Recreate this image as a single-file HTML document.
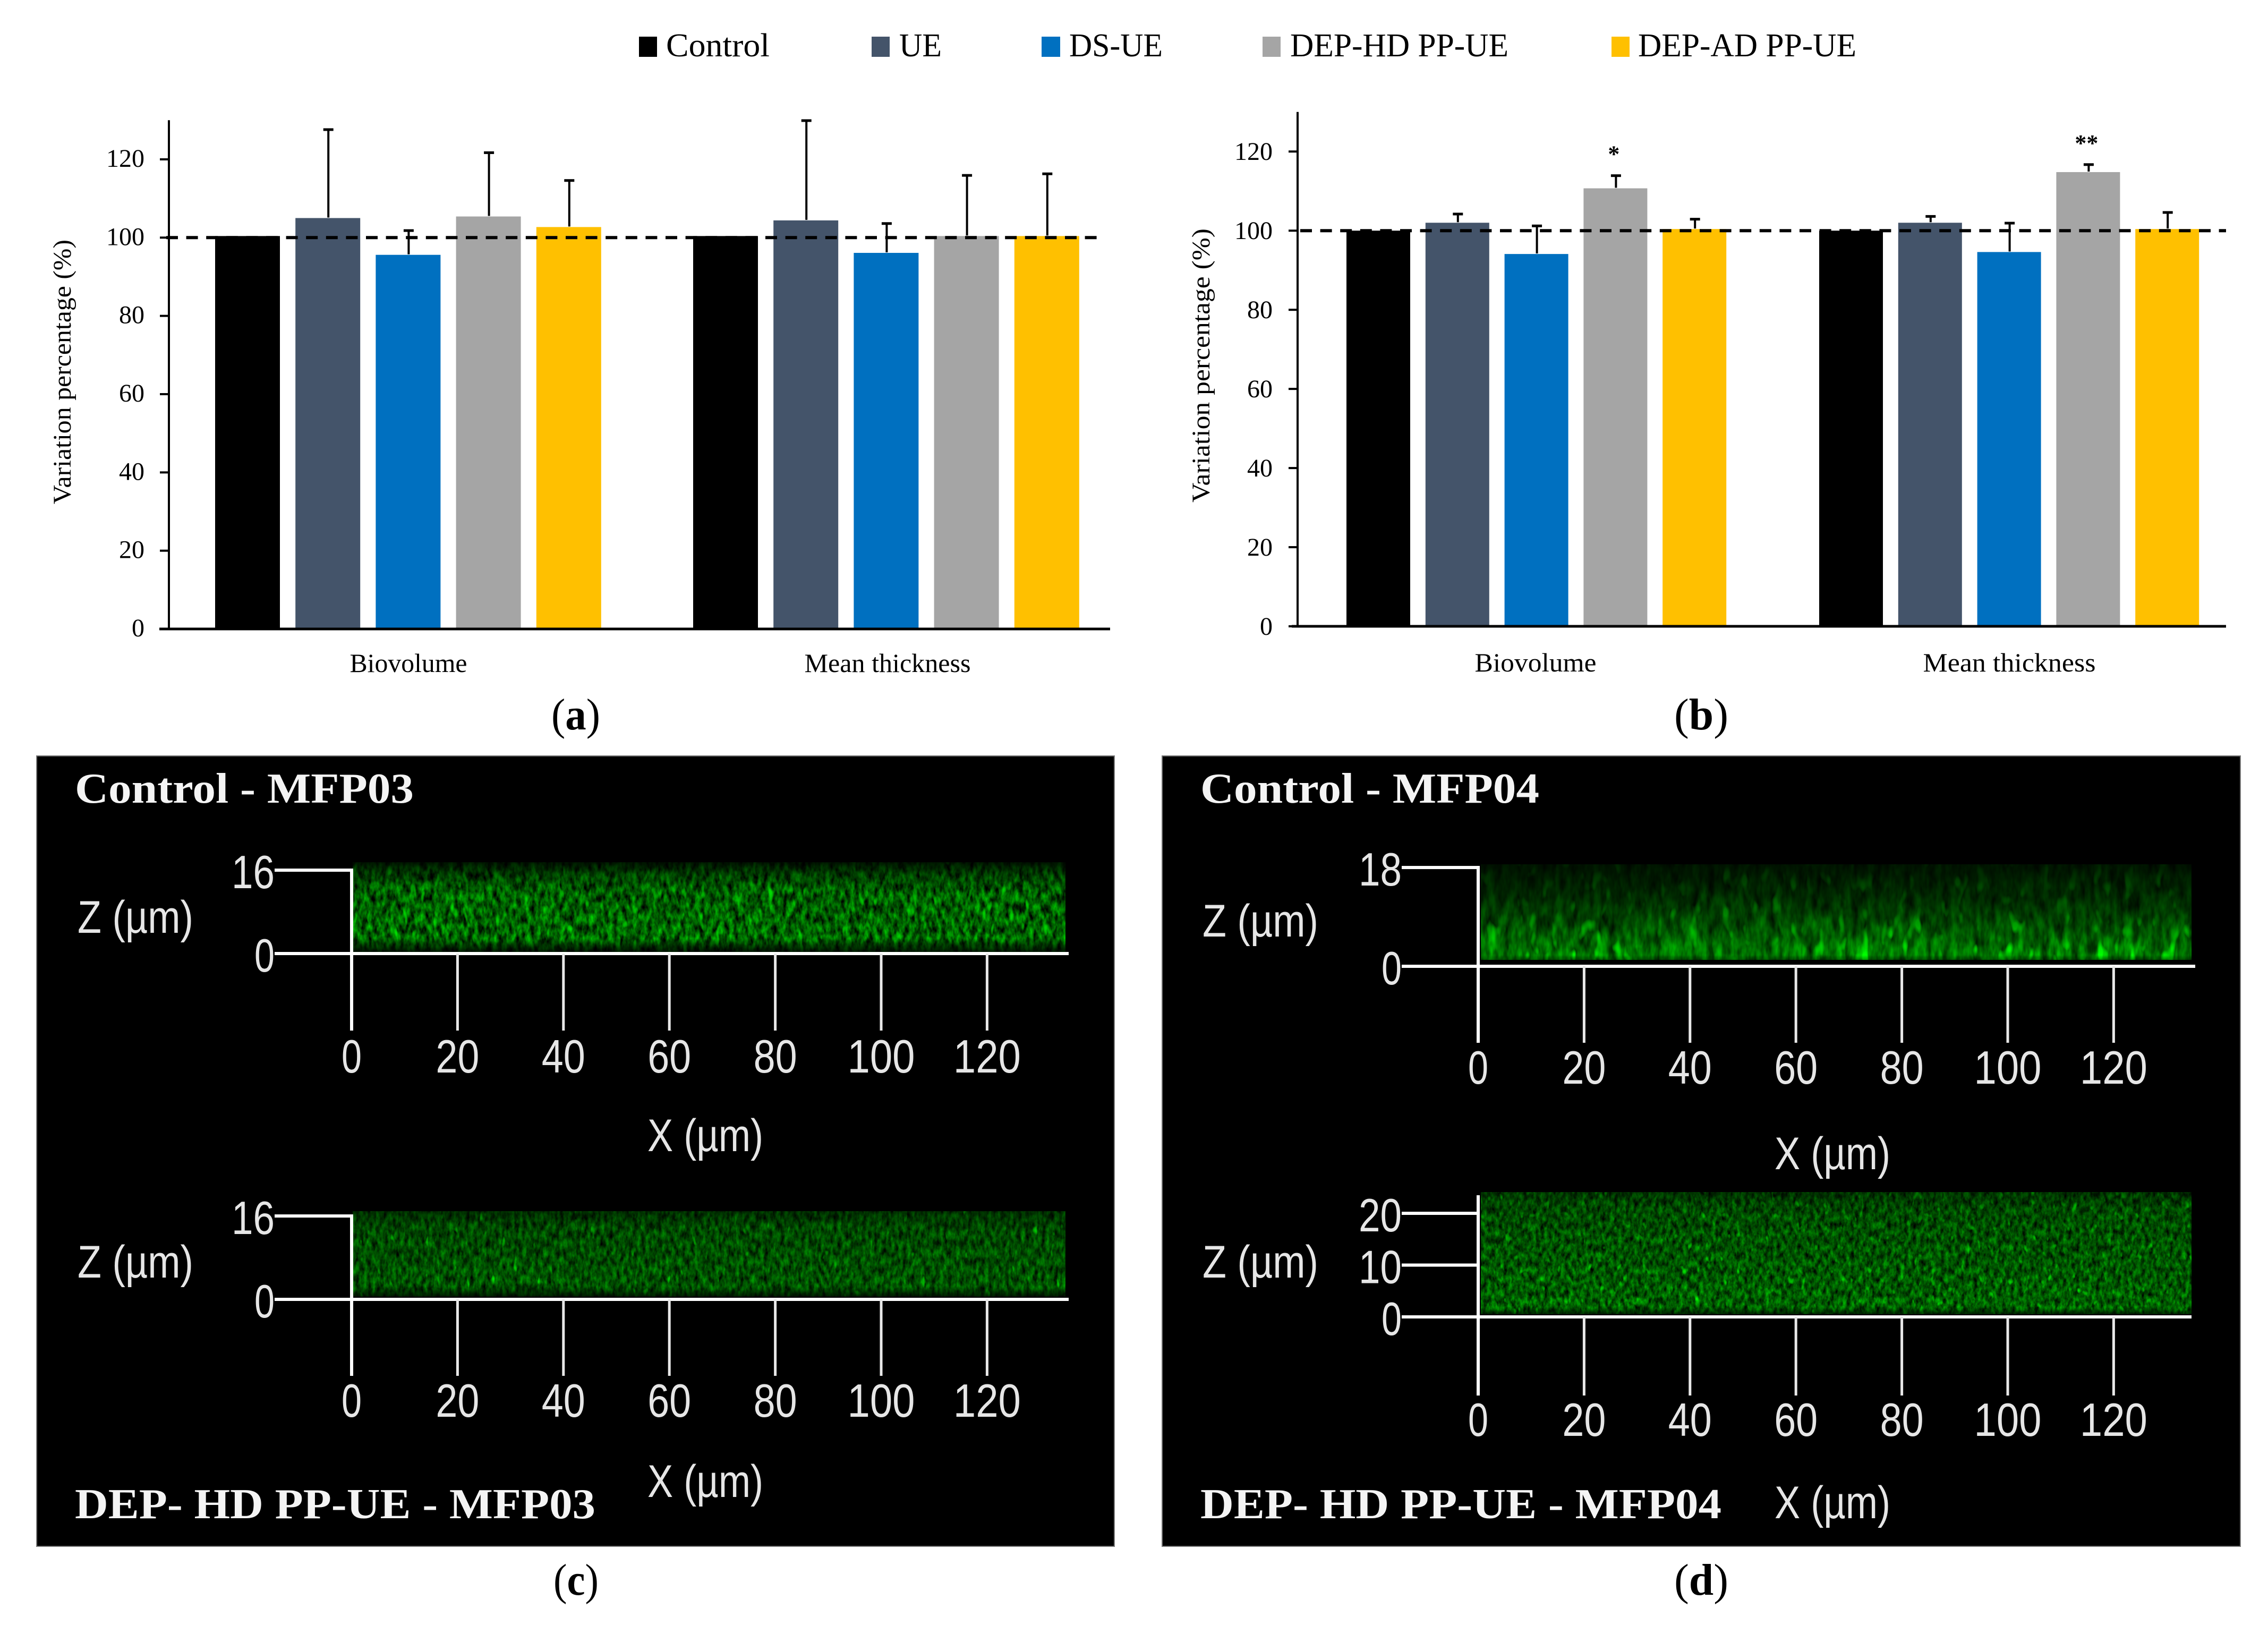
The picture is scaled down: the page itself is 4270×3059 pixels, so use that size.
<!DOCTYPE html>
<html lang="en">
<head>
<meta charset="utf-8">
<title>Biofilm variation percentage and confocal micrographs</title>
<style>
html,body{margin:0;padding:0;background:#fff;width:4270px;height:3059px;overflow:hidden}
svg{display:block}
text{font-family:"Liberation Serif",serif}
.sans{font-family:"Liberation Sans",sans-serif}
</style>
</head>
<body>
<svg id="figure" xmlns="http://www.w3.org/2000/svg" width="4270" height="3059" viewBox="0 0 4270 3059">
<defs>
<filter id="noise-c1" x="0" y="0" width="1" height="1" color-interpolation-filters="sRGB">
<feTurbulence type="fractalNoise" baseFrequency="0.11 0.05" numOctaves="3" seed="7" result="t1"/>
<feColorMatrix in="t1" type="matrix" values="0 0 0 0 0  1.25 0 0 0 -0.22  0 0 0 0 0  0 0 0 0 1" result="m1"/>
<feTurbulence type="fractalNoise" baseFrequency="0.07 0.03" numOctaves="2" seed="21" result="t2"/>
<feColorMatrix in="t2" type="matrix" values="0 0 0 0 0  5.0 0 0 0 -3.2  0 0 0 0 0  0 0 0 0 1" result="m2"/>
<feBlend in="m1" in2="m2" mode="screen"/>
</filter>
<filter id="noise-c2" x="0" y="0" width="1" height="1" color-interpolation-filters="sRGB">
<feTurbulence type="fractalNoise" baseFrequency="0.13 0.06" numOctaves="3" seed="12" result="t1"/>
<feColorMatrix in="t1" type="matrix" values="0 0 0 0 0  0.8 0 0 0 -0.08  0 0 0 0 0  0 0 0 0 1" result="m1"/>
<feTurbulence type="fractalNoise" baseFrequency="0.09 0.04" numOctaves="2" seed="33" result="t2"/>
<feColorMatrix in="t2" type="matrix" values="0 0 0 0 0  4.0 0 0 0 -2.8  0 0 0 0 0  0 0 0 0 1" result="m2"/>
<feBlend in="m1" in2="m2" mode="screen"/>
</filter>
<filter id="noise-d1" x="0" y="0" width="1" height="1" color-interpolation-filters="sRGB">
<feTurbulence type="fractalNoise" baseFrequency="0.07 0.025" numOctaves="3" seed="4" result="t1"/>
<feColorMatrix in="t1" type="matrix" values="0 0 0 0 0  0.9 0 0 0 0  0 0 0 0 0  0 0 0 0 1" result="m1"/>
<feTurbulence type="fractalNoise" baseFrequency="0.05 0.022" numOctaves="2" seed="45" result="t2"/>
<feColorMatrix in="t2" type="matrix" values="0 0 0 0 0  5.5 0 0 0 -3.3  0 0 0 0 0  0 0 0 0 1" result="m2"/>
<feBlend in="m1" in2="m2" mode="screen"/>
</filter>
<filter id="noise-d2" x="0" y="0" width="1" height="1" color-interpolation-filters="sRGB">
<feTurbulence type="fractalNoise" baseFrequency="0.13 0.07" numOctaves="3" seed="18" result="t1"/>
<feColorMatrix in="t1" type="matrix" values="0 0 0 0 0  0.95 0 0 0 -0.1  0 0 0 0 0  0 0 0 0 1" result="m1"/>
<feTurbulence type="fractalNoise" baseFrequency="0.09 0.05" numOctaves="2" seed="27" result="t2"/>
<feColorMatrix in="t2" type="matrix" values="0 0 0 0 0  4.5 0 0 0 -3.0  0 0 0 0 0  0 0 0 0 1" result="m2"/>
<feBlend in="m1" in2="m2" mode="screen"/>
</filter>
<linearGradient id="shade-c1" x1="0" y1="0" x2="0" y2="1">
<stop offset="0" stop-color="#000" stop-opacity="0.85"/>
<stop offset="0.12" stop-color="#000" stop-opacity="0.5"/>
<stop offset="0.3" stop-color="#000" stop-opacity="0.15"/>
<stop offset="0.85" stop-color="#000" stop-opacity="0.05"/>
<stop offset="0.93" stop-color="#000" stop-opacity="0.55"/>
<stop offset="1" stop-color="#000" stop-opacity="0.85"/>
</linearGradient>
<linearGradient id="shade-c2" x1="0" y1="0" x2="0" y2="1">
<stop offset="0" stop-color="#000" stop-opacity="0.45"/>
<stop offset="0.2" stop-color="#000" stop-opacity="0.15"/>
<stop offset="0.88" stop-color="#000" stop-opacity="0"/>
<stop offset="1" stop-color="#000" stop-opacity="0.75"/>
</linearGradient>
<linearGradient id="shade-d1" x1="0" y1="0" x2="0" y2="1">
<stop offset="0" stop-color="#000" stop-opacity="0.85"/>
<stop offset="0.35" stop-color="#000" stop-opacity="0.65"/>
<stop offset="0.65" stop-color="#000" stop-opacity="0.35"/>
<stop offset="0.95" stop-color="#000" stop-opacity="0"/>
<stop offset="1" stop-color="#000" stop-opacity="0.4"/>
</linearGradient>
<linearGradient id="shade-d2" x1="0" y1="0" x2="0" y2="1">
<stop offset="0" stop-color="#000" stop-opacity="0.5"/>
<stop offset="0.15" stop-color="#000" stop-opacity="0.25"/>
<stop offset="0.75" stop-color="#000" stop-opacity="0.1"/>
<stop offset="0.94" stop-color="#000" stop-opacity="0"/>
<stop offset="1" stop-color="#000" stop-opacity="0.7"/>
</linearGradient>
</defs>

<g id="legend">
  <g>
    <rect x="1203" y="69" width="34" height="38" fill="#000000"/>
    <text x="1254" y="106" font-size="62" textLength="195" lengthAdjust="spacingAndGlyphs">Control</text>
  </g>
  <g>
    <rect x="1641" y="69" width="34" height="38" fill="#44546A"/>
    <text x="1693" y="106" font-size="62" textLength="80" lengthAdjust="spacingAndGlyphs">UE</text>
  </g>
  <g>
    <rect x="1961" y="69" width="35" height="38" fill="#0070C0"/>
    <text x="2013" y="106" font-size="62" textLength="176" lengthAdjust="spacingAndGlyphs">DS-UE</text>
  </g>
  <g>
    <rect x="2377" y="69" width="34" height="38" fill="#A5A5A5"/>
    <text x="2429" y="106" font-size="62" textLength="411" lengthAdjust="spacingAndGlyphs">DEP-HD PP-UE</text>
  </g>
  <g>
    <rect x="3034" y="69" width="34" height="38" fill="#FFC000"/>
    <text x="3084" y="106" font-size="62" textLength="411" lengthAdjust="spacingAndGlyphs">DEP-AD PP-UE</text>
  </g>
</g>

<g id="chart-a"></g>
<g id="chart-b"></g>

<text x="1038" y="1373" font-size="84" textLength="92" lengthAdjust="spacingAndGlyphs">(<tspan font-weight="bold">a</tspan>)</text>
<text x="3152" y="1373" font-size="84" textLength="102" lengthAdjust="spacingAndGlyphs">(<tspan font-weight="bold">b</tspan>)</text>

<g id="panel-c">
  <rect x="69" y="1423" width="2029" height="1488" fill="#000" stroke="#777" stroke-width="2"/>
  <rect x="664" y="1623" width="1342" height="169" fill="#000" filter="url(#noise-c1)"/>
  <rect x="664" y="1623" width="1342" height="169" fill="url(#shade-c1)"/>
  <rect x="664" y="2280" width="1342" height="161" fill="#000" filter="url(#noise-c2)"/>
  <rect x="664" y="2280" width="1342" height="161" fill="url(#shade-c2)"/>
  <text x="141" y="1511" font-size="80" font-weight="bold" fill="#f4f4f4" textLength="638" lengthAdjust="spacingAndGlyphs">Control - MFP03</text>
  <text x="141" y="2858" font-size="80" font-weight="bold" fill="#f4f4f4" textLength="980" lengthAdjust="spacingAndGlyphs">DEP- HD PP-UE - MFP03</text>
</g>
<g id="panel-d">
  <rect x="2188" y="1423" width="2030" height="1488" fill="#000" stroke="#777" stroke-width="2"/>
  <rect x="2788" y="1627" width="1338" height="180" fill="#000" filter="url(#noise-d1)"/>
  <rect x="2788" y="1627" width="1338" height="180" fill="url(#shade-d1)"/>
  <rect x="2788" y="2244" width="1338" height="230" fill="#000" filter="url(#noise-d2)"/>
  <rect x="2788" y="2244" width="1338" height="230" fill="url(#shade-d2)"/>
  <text x="2260" y="1511" font-size="80" font-weight="bold" fill="#f4f4f4" textLength="638" lengthAdjust="spacingAndGlyphs">Control - MFP04</text>
  <text x="2260" y="2858" font-size="80" font-weight="bold" fill="#f4f4f4" textLength="981" lengthAdjust="spacingAndGlyphs">DEP- HD PP-UE - MFP04</text>
</g>

<text x="1042" y="3002" font-size="84" textLength="85" lengthAdjust="spacingAndGlyphs">(<tspan font-weight="bold">c</tspan>)</text>
<text x="3152" y="3002" font-size="84" textLength="102" lengthAdjust="spacingAndGlyphs">(<tspan font-weight="bold">d</tspan>)</text>
</svg>

<script>
const categories = ['Biovolume', 'Mean thickness'];
const seriesNames = ['Control', 'UE', 'DS-UE', 'DEP-HD PP-UE', 'DEP-AD PP-UE'];
const seriesColors = ['#000000', '#44546A', '#0070C0', '#A5A5A5', '#FFC000'];
const yTickLabels = [0, 20, 40, 60, 80, 100, 120];
const referenceValue = 100;

const chartABiovolume = [100.4, 105.0, 95.6, 105.4, 102.7];
const chartAThickness = [100.4, 104.4, 96.1, 100.4, 100.4];
const chartABiovolumeErrorTop = [null, 127.6, 101.8, 121.7, 114.6];
const chartAThicknessErrorTop = [null, 129.9, 103.6, 115.9, 116.3];

const chartBBiovolume = [100.0, 102.0, 94.1, 110.7, 100.4];
const chartBThickness = [100.0, 102.0, 94.6, 114.8, 100.4];
const chartBBiovolumeErrorTop = [null, 104.2, 101.2, 113.9, 102.9];
const chartBThicknessErrorTop = [null, 103.6, 101.9, 116.7, 104.6];
const chartBBiovolumeMarks = ['', '', '', '*', ''];
const chartBThicknessMarks = ['', '', '', '**', ''];

const micrographXTicks = [0, 20, 40, 60, 80, 100, 120];
const zTicksC = [16, 0];
const zTicksD1 = [18, 0];
const zTicksD2 = [20, 10, 0];

const NS = 'http://www.w3.org/2000/svg';
function make(parent, tag, attrs, content) {
  const el = document.createElementNS(NS, tag);
  for (const k in attrs) el.setAttribute(k, attrs[k]);
  if (content !== undefined) el.textContent = content;
  parent.appendChild(el);
  return el;
}

function drawChart(root, prefix, cfg) {
  const y = v => cfg.yZero - v * cfg.pxPerUnit;
  const xBar = (g, i) => cfg.x0 + g * cfg.groupStep + i * cfg.barStep;

  const title = make(root, 'text', {x: 0, y: 0, 'font-size': 48, textLength: cfg.titleLen, lengthAdjust: 'spacingAndGlyphs', transform: 'translate(' + cfg.titleX + ',' + cfg.titleY + ') rotate(-90)'}, 'Variation percentage (%)');
  
  

  yTickLabels.forEach(v => {
    const tick = make(root, 'rect', {x: cfg.axisX - 17, y: y(v) - 2, width: 17, height: 4, fill: '#000'});
    
    
    const label = make(root, 'text', {x: cfg.labelRight, y: y(v) + cfg.labelDy, 'font-size': 48, 'text-anchor': 'end'}, String(v));
    
    
  });

  categories.forEach((cat, g) => {
    const vals = cfg.values[g];
    const errs = cfg.errors[g];
    const marks = cfg.marks ? cfg.marks[g] : null;
    vals.forEach((v, i) => {
      const bar = make(root, 'rect', {x: xBar(g, i), y: y(v), width: cfg.barW, height: y(0) - y(v), fill: seriesColors[i]});
      
      
      if (errs[i] !== null) {
        const cx = xBar(g, i) + cfg.barW / 2 + 1;
        const stem = make(root, 'rect', {x: cx - 2, y: y(errs[i]), width: 4, height: y(v) - y(errs[i]) - 1, fill: '#000'});
        
        
        const cap = make(root, 'rect', {x: cx - 9.5, y: y(errs[i]) - 2.5, width: 19, height: 5, fill: '#000'});
        
        
        if (marks && marks[i]) {
          const star = make(root, 'text', {x: xBar(g, i) + cfg.barW / 2 - 3, y: y(errs[i]) - 26, 'font-size': 44, 'font-weight': 'bold', 'text-anchor': 'middle'}, marks[i]);
          
          
        }
      }
    });
    const catLabel = make(root, 'text', {x: cfg.catX[g], y: cfg.catY, 'font-size': 50, 'text-anchor': 'middle', textLength: cfg.catLen[g], lengthAdjust: 'spacingAndGlyphs'}, cat);
    
    
  });

  const yAxis = make(root, 'rect', {x: cfg.axisX - 2, y: y(cfg.yMax), width: 4, height: y(0) - y(cfg.yMax), fill: '#000'});
  
  
  const xAxis = make(root, 'rect', {x: cfg.axisLeft, y: y(0) - 2.5, width: cfg.axisRight - cfg.axisLeft, height: 5, fill: '#000'});
  
  
  const ref = make(root, 'line', {x1: cfg.dashStart, x2: cfg.dashEnd, y1: y(referenceValue), y2: y(referenceValue), stroke: '#000', 'stroke-width': 6, 'stroke-dasharray': '22 15.6'});
  
  
}

drawChart(document.getElementById('chart-a'), 'chart-a', {
  values: [chartABiovolume, chartAThickness],
  errors: [chartABiovolumeErrorTop, chartAThicknessErrorTop],
  yZero: 1184, pxPerUnit: 7.367, yMax: 130,
  axisX: 318, axisLeft: 300, axisRight: 2090, labelRight: 272, labelDy: 14,
  x0: 405, groupStep: 900, barStep: 151.2, barW: 122,
  dashStart: 313, dashEnd: 2072,
  titleX: 133, titleY: 949, titleLen: 498,
  catX: [769, 1671], catY: 1265, catLen: [221, 313]
});

drawChart(document.getElementById('chart-b'), 'chart-b', {
  values: [chartBBiovolume, chartBThickness],
  errors: [chartBBiovolumeErrorTop, chartBThicknessErrorTop],
  marks: [chartBBiovolumeMarks, chartBThicknessMarks],
  yZero: 1179, pxPerUnit: 7.448, yMax: 130,
  axisX: 2443, axisLeft: 2432, axisRight: 4191, labelRight: 2396, labelDy: 16,
  x0: 2535, groupStep: 890, barStep: 148.8, barW: 120,
  dashStart: 2448, dashEnd: 4191,
  titleX: 2277, titleY: 946, titleLen: 516,
  catX: [2891, 3783], catY: 1264, catLen: [229, 325]
});

function drawMicroAxes(root, prefix, cfg) {
  const xOf = v => cfg.x0 + v * cfg.pxPerMicron;
  const zOf = v => cfg.yZero - v * cfg.pxPerZ;
  const W = 6;
  const zTop = zOf(cfg.zTicks[0]);
  const vTop = cfg.vTop !== undefined ? cfg.vTop : zTop - W / 2;

  const base = make(root, 'rect', {x: cfg.left, y: cfg.yZero - W / 2, width: cfg.right - cfg.left, height: W, fill: '#fff'});
  
  

  const vert = make(root, 'rect', {x: cfg.x0 - W / 2, y: vTop, width: W, height: cfg.tickBottom - vTop, fill: '#fff'});
  
  

  micrographXTicks.forEach(v => {
    if (v !== 0) {
      const tick = make(root, 'rect', {x: xOf(v) - 2.5, y: cfg.yZero, width: 5, height: cfg.tickBottom - cfg.yZero, fill: '#e8e8e8'});
      
      
    }
    const s = String(v);
    const label = make(root, 'text', {'class': 'sans', x: xOf(v), y: cfg.labelBase, 'font-size': 88, 'text-anchor': 'middle', fill: '#e6e6e6', textLength: s.length === 1 ? 38 : (s.length === 2 ? 82 : 127), lengthAdjust: 'spacingAndGlyphs'}, s);
    
    
  });

  cfg.zTicks.forEach(v => {
    if (v !== 0) {
      const tick = make(root, 'rect', {x: cfg.left, y: zOf(v) - W / 2, width: cfg.x0 - cfg.left, height: W, fill: '#fff'});
      
      
    }
    const s = String(v);
    const label = make(root, 'text', {'class': 'sans', x: cfg.left, y: zOf(v) + 34, 'font-size': 88, 'text-anchor': 'end', fill: '#e6e6e6', textLength: s.length === 1 ? 38 : 81, lengthAdjust: 'spacingAndGlyphs'}, s);
    
    
  });

  const zTitle = make(root, 'text', {'class': 'sans', x: cfg.zTitleX, y: cfg.zTitleY, 'font-size': 86, fill: '#e6e6e6', textLength: 218, lengthAdjust: 'spacingAndGlyphs'}, 'Z (\u00B5m)');
  
  

  const xTitle = make(root, 'text', {'class': 'sans', x: cfg.xTitleX, y: cfg.xTitleY, 'font-size': 86, fill: '#e6e6e6', textLength: 218, lengthAdjust: 'spacingAndGlyphs'}, 'X (\u00B5m)');
  
  
}

const panelC = document.getElementById('panel-c');
const panelD = document.getElementById('panel-d');

drawMicroAxes(panelC, 'control-mfp03', {
  x0: 662, pxPerMicron: 9.97, left: 517, right: 2012, yZero: 1795, pxPerZ: 9.81,
  zTicks: zTicksC, tickBottom: 1940, labelBase: 2019,
  zTitleX: 146, zTitleY: 1756, xTitleX: 1219, xTitleY: 2167
});
drawMicroAxes(panelC, 'dep-hd-mfp03', {
  x0: 662, pxPerMicron: 9.97, left: 517, right: 2012, yZero: 2446, pxPerZ: 9.81,
  zTicks: zTicksC, tickBottom: 2590, labelBase: 2667,
  zTitleX: 146, zTitleY: 2405, xTitleX: 1219, xTitleY: 2818
});
drawMicroAxes(panelD, 'control-mfp04', {
  x0: 2783, pxPerMicron: 9.97, left: 2639, right: 4133, yZero: 1819, pxPerZ: 10.33,
  zTicks: zTicksD1, tickBottom: 1963, labelBase: 2040,
  zTitleX: 2264, zTitleY: 1763, xTitleX: 3341, xTitleY: 2201
});
drawMicroAxes(panelD, 'dep-hd-mfp04', {
  x0: 2783, pxPerMicron: 9.97, left: 2639, right: 4126, yZero: 2479, pxPerZ: 9.75,
  zTicks: zTicksD2, tickBottom: 2627, labelBase: 2703, vTop: 2250,
  zTitleX: 2264, zTitleY: 2405, xTitleX: 3341, xTitleY: 2858
});
</script>
</body>
</html>
